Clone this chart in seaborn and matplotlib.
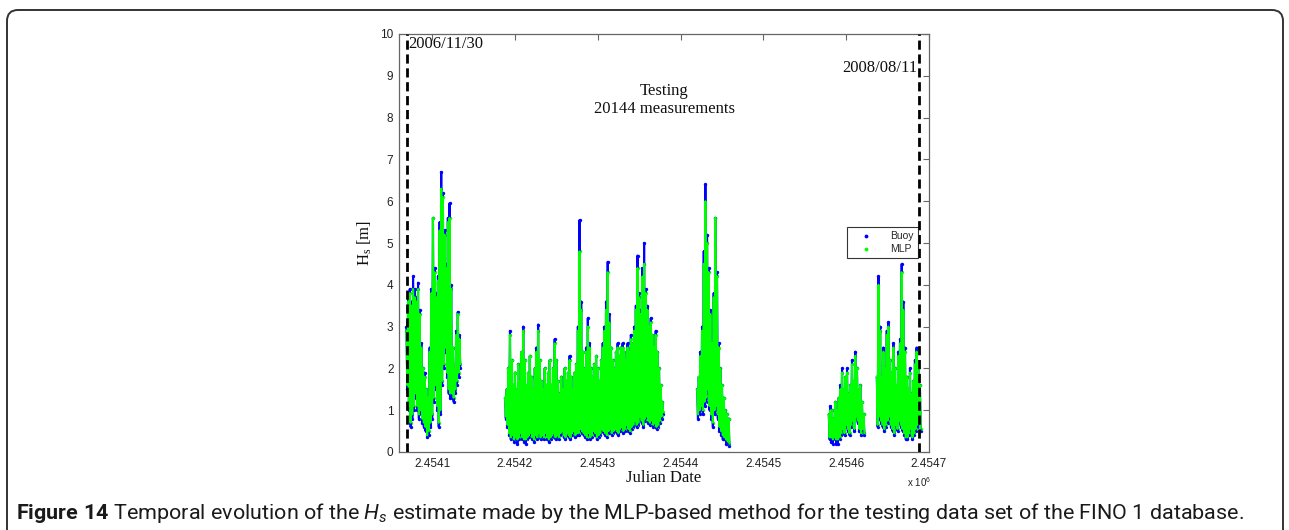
import matplotlib
matplotlib.use("Agg")
import numpy as np
import pandas as pd
import seaborn as sns
import matplotlib.pyplot as plt
from matplotlib.patches import FancyBboxPatch
from matplotlib.lines import Line2D
from matplotlib.ticker import FuncFormatter
from matplotlib.transforms import IdentityTransform
from matplotlib import font_manager as fm

# ---------------- data (Julian Date offsets from 2454000, Hs in metres) ----------------
JD0 = 2454000
boundary_days = [69.5, 688.5]            # 2006/11/30 and 2008/08/11
boundary_labels = ["2006/11/30", "2008/08/11"]

# segment A
segA_start, segA_step = 69, 2
buoyA_hi = [3.0,3.7,3.9,3.6,4.2,3.9,3.7,4.05,3.4,2.6,2.0,1.9,1.5,1.3,2.5,3.9,5.6,4.4,3.8,4.2,5.5,6.7,6.2,5.3,4.5,5.6,5.95,4.0,2.5,2.0,2.9,3.35,2.8]
buoyA_lo = [1.5,1.0,0.6,0.8,1.0,1.3,1.0,0.8,0.9,0.7,0.6,0.5,0.35,0.4,0.6,0.8,1.2,1.5,1.0,0.6,0.9,1.6,2.0,2.4,1.8,1.4,1.3,1.3,1.2,1.4,1.6,1.8,2.0]
mlpA_hi = [2.9,3.6,3.8,3.5,3.9,3.7,3.6,3.9,3.3,2.5,2.0,1.8,1.5,1.3,2.4,3.8,5.6,4.3,3.7,4.1,5.3,6.3,6.1,5.2,4.4,5.5,5.6,3.9,2.5,2.0,2.8,3.3,2.7]
mlpA_lo = [1.6,1.1,0.7,0.9,1.1,1.4,1.1,0.9,1.0,0.8,0.7,0.6,0.4,0.5,0.7,0.9,1.3,1.6,1.1,0.7,1.0,1.7,2.1,2.5,1.9,1.5,1.4,1.4,1.3,1.5,1.7,1.9,2.1]

# segment B
segB_start, segB_step = 188, 2
buoyB_hi = [1.3,1.5,2.0,2.9,2.2,1.6,1.9,1.5,2.1,1.7, 2.4,3.0,2.2,1.6,1.9,2.3,1.8,1.5,2.0,2.5,
            3.05,2.2,1.7,1.5,2.0,1.6,1.9,2.2,1.6,2.0, 2.7,2.2,1.7,1.4,1.8,1.5,2.0,1.7,1.9,2.3,
            1.8,1.5,1.9,2.1,3.0,5.55,3.6,2.4,2.0,2.5, 3.2,2.6,2.0,1.8,2.1,2.3,2.0,1.7,2.2,2.6,
            3.0,3.6,4.55,3.3,2.5,2.2,2.0,2.4,2.6,2.3, 2.5,2.6,2.4,2.2,2.6,2.4,2.8,2.6,3.0,3.5,
            4.7,3.8,3.4,4.4,5.0,3.9,3.5,3.0,3.2,2.8, 2.5,2.9,2.4,2.0,1.6,1.2]
buoyB_lo = [0.8,0.6,0.4,0.3,0.35,0.25,0.3,0.2,0.3,0.4,0.3,0.25,0.2,0.3,0.35,0.4,0.3,0.25,0.35,0.3,0.4,0.3,
            0.35,0.3,0.4,0.3,0.25,0.3,0.35,0.4,0.3,0.35,0.3,0.4,0.45,0.35,0.3,0.4,0.35,0.3,0.4,0.45,0.35,0.4,
            0.4,0.5,0.45,0.4,0.35,0.3,0.4,0.3,0.35,0.45,0.4,0.3,0.35,0.4,0.5,0.45,0.4,0.35,0.45,0.5,0.4,0.45,
            0.5,0.45,0.4,0.5,0.55,0.45,0.5,0.6,0.5,0.45,0.55,0.6,0.7,0.6,0.65,0.8,0.7,0.6,0.75,0.8,0.7,0.65,
            0.7,0.6,0.65,0.55,0.6,0.7,0.8,0.9]
mlpB_hi = [1.3,1.5,2.0,2.8,2.2,1.6,1.9,1.5,2.1,1.7, 2.4,2.9,2.2,1.6,1.9,2.3,1.8,1.5,2.0,2.4,
           2.9,2.2,1.7,1.5,2.0,1.6,1.9,2.2,1.6,2.0, 2.6,2.2,1.7,1.4,1.8,1.5,2.0,1.7,1.9,2.2,
           1.8,1.5,1.9,2.1,2.9,4.8,3.4,2.4,2.0,2.4, 3.0,2.5,2.0,1.8,2.1,2.3,2.0,1.7,2.2,2.5,
           2.9,3.4,4.3,3.1,2.5,2.2,2.0,2.4,2.5,2.3, 2.5,2.5,2.4,2.2,2.5,2.4,2.7,2.6,2.9,3.4,
           4.4,3.7,3.3,4.2,4.5,3.8,3.4,3.0,3.1,2.8, 2.5,2.8,2.4,2.0,1.6,1.2]
mlpB_lo = [0.85,0.65,0.45,0.35,0.4,0.3,0.35,0.3,0.35,0.45,0.35,0.3,0.3,0.35,0.4,0.45,0.35,0.3,0.4,0.35,0.45,0.35,
           0.4,0.35,0.45,0.35,0.3,0.35,0.4,0.45,0.35,0.4,0.35,0.45,0.5,0.4,0.35,0.45,0.4,0.35,0.45,0.5,0.4,0.45,
           0.45,0.55,0.5,0.45,0.4,0.35,0.45,0.35,0.4,0.5,0.45,0.35,0.4,0.45,0.55,0.5,0.45,0.4,0.5,0.55,0.45,0.5,
           0.55,0.5,0.45,0.55,0.6,0.5,0.55,0.65,0.55,0.5,0.6,0.65,0.75,0.65,0.7,0.85,0.75,0.65,0.8,0.85,0.75,0.7,
           0.75,0.65,0.7,0.6,0.65,0.75,0.85,0.95]

# segment C
segC_start, segC_step = 420, 2
buoyC_hi = [1.5,1.8,2.4,3.0,4.8,6.4,5.2,4.4,3.4,2.6,3.8,5.6,4.3,2.6,2.0,1.6,1.3,1.0,0.9,0.8]
buoyC_lo = [0.8,0.9,1.0,0.9,1.1,1.2,1.4,1.0,0.8,0.6,0.9,1.0,0.8,0.5,0.4,0.3,0.3,0.2,0.2,0.15]
mlpC_hi = [1.5,1.8,2.3,2.9,4.5,6.0,5.0,4.3,3.3,2.6,3.7,5.6,4.2,2.5,2.0,1.6,1.3,1.0,0.9,0.8]
mlpC_lo = [0.9,1.0,1.1,1.0,1.2,1.3,1.5,1.1,0.9,0.7,1.0,1.1,0.9,0.6,0.5,0.4,0.35,0.3,0.25,0.2]

# segment D1
segD1_start, segD1_step = 579, 2
buoyD1_hi = [0.9,1.1,1.0,0.8,1.2,1.0,1.3,1.6,2.0,1.5,1.8,2.0,1.4,1.6,2.2,1.7,2.4,2.0,1.5,1.6,1.2,0.9]
buoyD1_lo = [0.3,0.25,0.2,0.3,0.2,0.2,0.3,0.4,0.5,0.4,0.6,0.5,0.4,0.6,0.7,0.5,0.8,0.7,0.5,0.4,0.5,0.4]
mlpD1_hi = [0.9,1.0,1.0,0.8,1.2,1.0,1.3,1.5,1.9,1.5,1.8,1.9,1.4,1.6,2.1,1.7,2.3,2.0,1.5,1.6,1.2,0.9]
mlpD1_lo = [0.35,0.35,0.3,0.35,0.3,0.3,0.35,0.45,0.55,0.45,0.65,0.55,0.45,0.65,0.75,0.55,0.85,0.75,0.55,0.45,0.55,0.45]

# segment D2
segD2_start, segD2_step = 637, 2
buoyD2_hi = [1.8,4.2,3.0,1.8,2.5,2.0,2.9,3.1,2.2,1.9,2.6,2.0,1.6,2.4,2.7,4.5,3.6,2.5,1.8,1.5,2.0,1.4,1.7,2.2,2.5,2.0,1.6]
buoyD2_lo = [0.6,0.8,0.7,0.6,0.5,0.6,0.7,0.8,0.6,0.5,0.4,0.6,0.5,0.7,0.6,0.5,0.4,0.3,0.3,0.4,0.5,0.3,0.4,0.5,0.6,0.7,0.5]
mlpD2_hi = [1.8,4.0,2.9,1.8,2.4,2.0,2.8,3.0,2.2,1.9,2.5,2.0,1.6,2.3,2.6,4.3,3.4,2.4,1.8,1.5,1.9,1.4,1.7,2.1,2.4,2.0,1.6]
mlpD2_lo = [0.65,0.85,0.75,0.65,0.55,0.65,0.75,0.85,0.65,0.55,0.45,0.65,0.55,0.75,0.65,0.55,0.45,0.35,0.35,0.45,0.55,0.35,0.45,0.55,0.65,0.75,0.55]

x_ticks = [2454100, 2454200, 2454300, 2454400, 2454500, 2454600, 2454700]
y_ticks = list(range(0, 11))
series_names = ["Buoy", "MLP"]

segments = [
    ("A", segA_start, segA_step, buoyA_hi, buoyA_lo, mlpA_hi, mlpA_lo),
    ("B", segB_start, segB_step, buoyB_hi, buoyB_lo, mlpB_hi, mlpB_lo),
    ("C", segC_start, segC_step, buoyC_hi, buoyC_lo, mlpC_hi, mlpC_lo),
    ("D1", segD1_start, segD1_step, buoyD1_hi, buoyD1_lo, mlpD1_hi, mlpD1_lo),
    ("D2", segD2_start, segD2_step, buoyD2_hi, buoyD2_lo, mlpD2_hi, mlpD2_lo),
]

rows = []
for seg, start, step, bh, bl, mh, ml in segments:
    for name, hi, lo in (("Buoy", bh, bl), ("MLP", mh, ml)):
        for i, (h, l) in enumerate(zip(hi, lo)):
            t = JD0 + start + i * step
            rows.append((t, h, name, seg))
            rows.append((t + step / 2, l, name, seg))
df = pd.DataFrame(rows, columns=["jd", "Hs", "series", "seg"])

# ---------------- style ----------------
sns.set_theme(style="white")
plt.rcParams["font.family"] = ["Liberation Sans", "DejaVu Sans"]
names = {f.name for f in fm.fontManager.ttflist}
cap_font = "Liberation Sans Narrow" if "Liberation Sans Narrow" in names else "Roboto"
plt.rcParams["mathtext.fontset"] = "custom"
plt.rcParams["mathtext.rm"] = cap_font
plt.rcParams["mathtext.it"] = cap_font + ":italic"
plt.rcParams["mathtext.bf"] = cap_font + ":bold"

W, H = 1289, 530
fig = plt.figure(figsize=(W / 100, H / 100), dpi=100)
fig.patch.set_facecolor("white")
ax = fig.add_axes([399 / W, 1 - 452 / H, 530 / W, 418 / H])
ax.set_facecolor("white")

colors = {"Buoy": (0, 0, 1), "MLP": (0, 1, 0)}
for name in series_names:
    d = df[df.series == name]
    sns.lineplot(data=d, x="jd", y="Hs", units="seg", estimator=None, sort=False,
                 color=colors[name], lw=1.5, ax=ax, legend=False)
    sns.scatterplot(data=d, x="jd", y="Hs", color=colors[name], marker="o", s=6,
                    linewidth=0, ax=ax, legend=False)

for bd in boundary_days:
    ax.axvline(JD0 + bd, color="black", lw=2, dashes=(3.3, 1.7), zorder=5)

ax.set_xlim(2454060, 2454700)
ax.set_ylim(0, 10)
ax.set_xticks(x_ticks)
ax.set_yticks(y_ticks)
ax.xaxis.set_major_formatter(FuncFormatter(lambda v, p: f"{v / 1e6:.4f}"))
ax.tick_params(direction="in", length=4, width=0.8, top=True, right=True,
               labelsize=8.5, color="#666666", labelcolor="#222222", pad=4)
for s in ax.spines.values():
    s.set_color("#666666")
    s.set_linewidth(0.9)

serif = ["Liberation Serif", "DejaVu Serif"]
ax.set_xlabel("Julian Date", family=serif, fontsize=12, color="#111111")
ax.xaxis.set_label_coords(0.5, (452 - 478) / 418)
ax.xaxis.label.set_va("center")
ax.set_ylabel(r"H$_\mathregular{s}$ [m]", family=serif, fontsize=12, color="#111111")
ax.yaxis.set_label_coords((365 - 399) / 530, 0.5)
ax.yaxis.label.set_va("center")

ax.text((408 - 399) / 530, (452 - 44) / 418, boundary_labels[0], transform=ax.transAxes,
        family=serif, fontsize=12, ha="left", va="center", color="#111111")
ax.text((917 - 399) / 530, (452 - 67.5) / 418, boundary_labels[1], transform=ax.transAxes,
        family=serif, fontsize=12, ha="right", va="center", color="#111111")
ax.text(0.5, (452 - 91) / 418, "Testing", transform=ax.transAxes,
        family=serif, fontsize=12, ha="center", va="center", color="#111111")
ax.text(0.5, (452 - 109) / 418, "20144 measurements", transform=ax.transAxes,
        family=serif, fontsize=12, ha="center", va="center", color="#111111")
ax.text((931 - 399) / 530, (452 - 482) / 418, r"x 10$^{\mathregular{6}}$", transform=ax.transAxes,
        fontsize=7, ha="right", va="center", color="#222222")

handles = [Line2D([], [], ls="none", marker=".", ms=3.5, color=colors[n]) for n in series_names]
leg = ax.legend(handles, series_names, loc="upper right", bbox_to_anchor=((918 - 399) / 530, (452 - 227) / 418),
                frameon=True, fancybox=False, fontsize=7.5, borderpad=0.4, handlelength=3.0,
                handletextpad=0.8, labelspacing=0.3, borderaxespad=0)
leg.get_frame().set_edgecolor("black")
leg.get_frame().set_linewidth(0.8)

# outer rounded frame
frame = FancyBboxPatch((7, -30), 1283 - 7, (H - 10) + 30,
                       boxstyle="round,pad=0,rounding_size=11", transform=IdentityTransform(),
                       fill=False, ec="#333333", lw=1.4, clip_on=False)
fig.add_artist(frame)

caption = (r"$\mathbf{Figure\ 14}$ Temporal evolution of the $H_s$ estimate made by the MLP-based "
           r"method for the testing data set of the FINO 1 database.")
cap = fig.text(16 / W, (H - 513) / H, caption, family=cap_font, fontsize=13, ha="left", va="center",
               color="#1a1a1a")
fig.canvas.draw()
bb = cap.get_window_extent()
cap.set_fontsize(13 * (1240 - 16) / bb.width)

fig.savefig("out.png", dpi=100, facecolor="white")
